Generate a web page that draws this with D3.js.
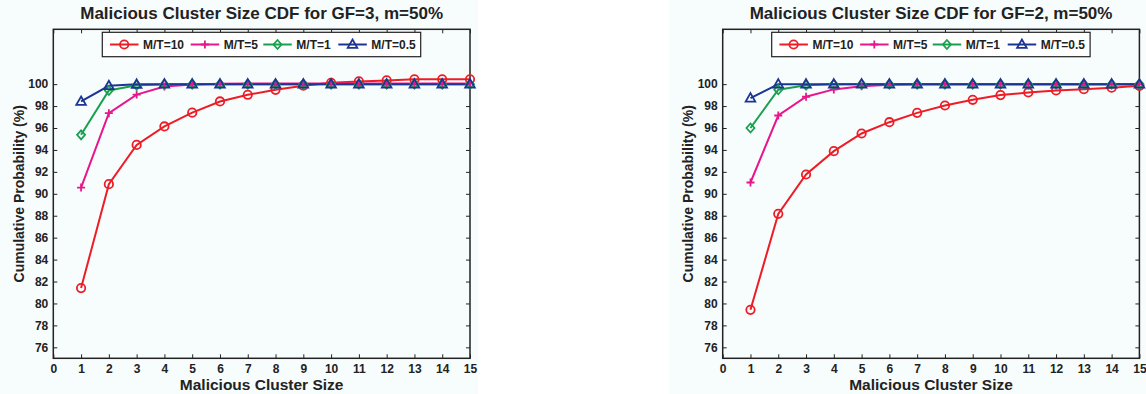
<!DOCTYPE html>
<html>
<head>
<meta charset="utf-8">
<script src="https://cdn.jsdelivr.net/npm/d3@7"></script>
<style>
  body { margin: 0; background: #ffffff; }
  svg { display: block; font-family: "Liberation Sans", Arial, sans-serif; }
</style>
</head>
<body>
<svg id="chart" width="1146" height="394"></svg>
<script>
// cluster sizes on the x axis
var sizes = [1, 2, 3, 4, 5, 6, 7, 8, 9, 10, 11, 12, 13, 14, 15];
var seriesNames = ["M/T=10", "M/T=5", "M/T=1", "M/T=0.5"];
var xTicks = d3.range(0, 16);
var yTicks = [76, 78, 80, 82, 84, 86, 88, 90, 92, 94, 96, 98, 100];

// GF=3 panel, cumulative probability (%)
var gf3_mt10 = [81.4, 90.88, 94.46, 96.14, 97.4, 98.42, 99.03, 99.48, 99.86, 100.12, 100.25, 100.34, 100.44, 100.44, 100.44];
var gf3_mt5  = [90.57, 97.35, 99.05, 99.79, 99.97, 100.03, 100.05, 100.05, 100.05, 100.05, 100.05, 100.05, 100.05, 100.05, 100.05];
var gf3_mt1  = [95.38, 99.42, 99.9, 99.97, 100, 100, 100, 100, 100, 100, 100, 100, 100, 100, 100];
var gf3_mt05 = [98.42, 99.85, 99.98, 100, 100, 100, 100, 100, 100, 100, 100, 100, 100, 100, 100];

// GF=2 panel
var gf2_mt10 = [79.42, 88.17, 91.76, 93.89, 95.5, 96.53, 97.38, 98.05, 98.57, 99.0, 99.24, 99.42, 99.54, 99.67, 99.85];
var gf2_mt5  = [91.03, 97.14, 98.85, 99.52, 99.8, 99.95, 100, 100, 100, 100, 100, 100, 100, 100, 100];
var gf2_mt1  = [96.0, 99.49, 99.9, 99.98, 100, 100, 100, 100, 100, 100, 100, 100, 100, 100, 100];
var gf2_mt05 = [98.72, 100, 100, 100, 100, 100, 100, 100, 100, 100, 100, 100, 100, 100, 100];

var colors = ["#ee1c25", "#e8168c", "#18a04e", "#1c3592"];
var markers = ["circle", "plus", "diamond", "triangle"];
var bg = "#f7fcfd";

var svg = d3.select("#chart");

function drawMarker(g, type, color) {
  if (type == "circle") {
    g.append("circle").attr("r", 4.2).attr("fill", "none")
      .attr("stroke", color).attr("stroke-width", 1.8);
  } else if (type == "plus") {
    g.append("path").attr("d", "M-4,0H4M0,-4V4")
      .attr("stroke", color).attr("stroke-width", 1.8);
  } else if (type == "diamond") {
    g.append("path").attr("d", "M0,-4.5L4,0L0,4.5L-4,0Z").attr("fill", "none")
      .attr("stroke", color).attr("stroke-width", 1.8);
  } else {
    g.append("path").attr("d", "M0,-5L4.8,3.4L-4.8,3.4Z").attr("fill", "none")
      .attr("stroke", color).attr("stroke-width", 1.8);
  }
}

function drawPanel(offsetX, title, series) {
  var left = offsetX + 53.3, right = offsetX + 470, top = 29.3, bottom = 358.3;

  svg.append("rect").attr("x", offsetX).attr("y", 0)
    .attr("width", 478).attr("height", 394).attr("fill", bg);

  var x = d3.scaleLinear().domain([0, 15]).range([left, right]);
  var y = d3.scaleLinear().domain([75, 105]).range([bottom, top]);

  var g = svg.append("g");

  // axes with inward ticks, mirrored on top and right
  g.append("g").attr("transform", "translate(0," + bottom + ")")
    .call(d3.axisBottom(x).tickValues(xTicks).tickSizeInner(-4).tickSizeOuter(0).tickPadding(6.5));
  g.append("g").attr("transform", "translate(0," + top + ")")
    .call(d3.axisTop(x).tickValues(xTicks).tickSizeInner(-4).tickSizeOuter(0).tickFormat(""));
  g.append("g").attr("transform", "translate(" + left + ",0)")
    .call(d3.axisLeft(y).tickValues(yTicks).tickSizeInner(-4).tickSizeOuter(0).tickPadding(5));
  g.append("g").attr("transform", "translate(" + right + ",0)")
    .call(d3.axisRight(y).tickValues(yTicks).tickSizeInner(-4).tickSizeOuter(0).tickFormat(""));

  g.selectAll(".domain").remove();
  g.selectAll(".tick line").attr("stroke", "#222").attr("stroke-width", 1);
  g.selectAll(".tick text").attr("fill", "#222").attr("font-size", 12).attr("font-weight", "bold");

  g.append("rect").attr("x", left).attr("y", top)
    .attr("width", right - left).attr("height", bottom - top)
    .attr("fill", "none").attr("stroke", "#222").attr("stroke-width", 1.5);

  var line = d3.line().x(function(d) { return x(d[0]); }).y(function(d) { return y(d[1]); });

  series.forEach(function(vals, i) {
    var pts = sizes.map(function(s, j) { return [s, vals[j]]; });
    g.append("path").datum(pts).attr("d", line)
      .attr("fill", "none").attr("stroke", colors[i]).attr("stroke-width", 2);
  });
  series.forEach(function(vals, i) {
    sizes.forEach(function(s, j) {
      var m = g.append("g").attr("transform", "translate(" + x(s) + "," + y(vals[j]) + ")");
      drawMarker(m, markers[i], colors[i]);
    });
  });

  // legend
  var lx = offsetX + 102.3, ly = 32.3;
  g.append("rect").attr("x", lx).attr("y", ly).attr("width", 318.4).attr("height", 24.4)
    .attr("fill", "#fff").attr("stroke", "#222").attr("stroke-width", 1.2);
  var entryX = [110, 190.7, 263.3, 338.3];
  seriesNames.forEach(function(name, i) {
    var ex = offsetX + entryX[i];
    g.append("line").attr("x1", ex).attr("x2", ex + 28.5).attr("y1", ly + 12.2).attr("y2", ly + 12.2)
      .attr("stroke", colors[i]).attr("stroke-width", 2);
    var m = g.append("g").attr("transform", "translate(" + (ex + 14.2) + "," + (ly + 12.2) + ")");
    drawMarker(m, markers[i], colors[i]);
    g.append("text").attr("x", ex + 33).attr("y", ly + 16.4)
      .attr("font-size", 12).attr("font-weight", "bold").attr("fill", "#222").text(name);
  });

  // titles
  svg.append("text").attr("x", (left + right) / 2).attr("y", 19)
    .attr("text-anchor", "middle").attr("font-size", 17).attr("font-weight", "bold")
    .attr("fill", "#222").text(title);
  svg.append("text").attr("x", (left + right) / 2).attr("y", 390)
    .attr("text-anchor", "middle").attr("font-size", 15.5).attr("font-weight", "bold")
    .attr("fill", "#222").text("Malicious Cluster Size");
  svg.append("text")
    .attr("transform", "translate(" + (offsetX + 23.5) + "," + ((top + bottom) / 2) + ") rotate(-90)")
    .attr("text-anchor", "middle").attr("font-size", 14).attr("font-weight", "bold")
    .attr("fill", "#222").text("Cumulative Probability (%)");
}

drawPanel(0, "Malicious Cluster Size CDF for GF=3, m=50%", [gf3_mt10, gf3_mt5, gf3_mt1, gf3_mt05]);
drawPanel(669.4, "Malicious Cluster Size CDF for GF=2, m=50%", [gf2_mt10, gf2_mt5, gf2_mt1, gf2_mt05]);
</script>
</body>
</html>
